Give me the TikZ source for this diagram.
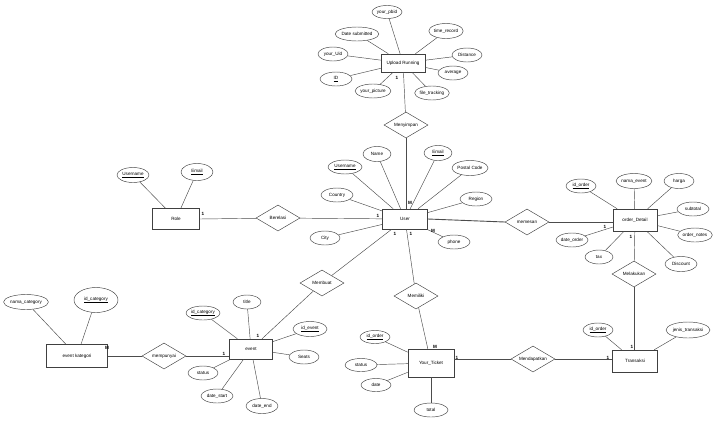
\documentclass[tikz,border=0pt]{standalone}
\usepackage{fontspec}
\setmainfont{Liberation Sans}
\usetikzlibrary{shapes.geometric}
\begin{document}
\begin{tikzpicture}[x=1pt,y=-1pt,
  font=\fontsize{4.6}{5.5}\selectfont,
  ent/.style={draw=black!75, rectangle, minimum width=44pt, minimum height=20pt, inner sep=0pt, line width=0.5pt},
  attr/.style={draw=black!75, ellipse, minimum height=14pt, inner sep=0pt, line width=0.45pt},
  rel/.style={draw=black!75, diamond, aspect=1.7, minimum width=44pt, minimum height=26pt, inner sep=0pt, line width=0.45pt},
  lnk/.style={draw=black!70, line width=0.45pt},
  card/.style={font=\fontsize{4.6}{5.5}\selectfont\bfseries, inner sep=0pt}]
\useasboundingbox[fill=white] (0,0) rectangle (720,421);

% ---------- Upload Running ----------
\node[ent, minimum width=44pt, minimum height=18pt] (up) at (403,63) {Upload Running};
\node[attr, minimum width=30pt, minimum height=13pt] (upA) at (387,12) {your\_pbid};
\node[attr, minimum width=40pt] (upB) at (357,34) {Date submitted};
\node[attr, minimum width=34pt, minimum height=15pt] (upC) at (446,31) {time\_record};
\node[attr, minimum width=30pt] (upD) at (333,54) {your\_Uid};
\node[attr, minimum width=30pt] (upE) at (467,55) {Distance};
\node[attr, minimum width=30pt] (upF) at (453,73) {average};
\node[attr, minimum width=32pt] (upG) at (336,79) {\underline{ID}};
\node[attr, minimum width=33pt] (upH) at (373,91) {your\_picture};
\node[attr, minimum width=34pt] (upI) at (432,93) {file\_tracking};
\foreach \a in {upA,upB,upC,upD,upE,upF,upG,upH,upI} \draw[lnk] (\a) -- (up);
\node[card] at (397,78) {1};

\node[rel] (mj) at (406,125) {Menyimpan};

% ---------- User ----------
\node[ent, minimum width=45pt, minimum height=20pt] (us) at (405,219) {User};
\node[attr, minimum width=28pt, minimum height=15pt] (usA) at (377,154) {Name};
\node[attr, minimum width=28pt, minimum height=15pt] (usB) at (438,153) {\underline{Email}};
\node[attr, minimum width=34pt] (usC) at (345,167) {\underline{Username}};
\node[attr, minimum width=36pt, minimum height=15pt] (usD) at (470,168) {Postal Code};
\node[attr, minimum width=32pt] (usE) at (337,195) {Country};
\node[attr, minimum width=32pt] (usF) at (476,199) {Region};
\node[attr, minimum width=30pt] (usG) at (325,238) {City};
\node[attr, minimum width=32pt] (usH) at (454,242) {phone};
\foreach \a in {usA,usB,usC,usD,usE,usF,usG,usH} \draw[lnk] (\a) -- (us);
\draw[lnk] (up) -- (mj);
\draw[lnk] (mj.south) -- (mj.south |- us.north);
\node[card] at (410,203) {M};
\node[card] at (378,216) {1};
\node[card] at (433,231) {M};
\node[card] at (395,234) {1};
\node[card] at (411,234) {1};

% ---------- Role ----------
\node[ent, minimum width=47pt, minimum height=21pt] (ro) at (176,219) {Role};
\node[attr, minimum width=32pt, minimum height=15pt] (roA) at (133,175) {\underline{Username}};
\node[attr, minimum width=32pt, minimum height=17pt] (roB) at (197,172) {\underline{Email}};
\draw[lnk] (roA) -- (ro);
\draw[lnk] (roB) -- (ro);
\node[rel] (br) at (278,218) {Berelasi};
\draw[lnk] (ro.east) -- (br);
\draw[lnk] (br) -- (us);
\node[card] at (203,214) {1};

% ---------- order_detail ----------
\node[rel] (me) at (527,222) {memesan};
\node[ent, minimum width=44pt, minimum height=22pt] (od) at (635,220) {order\_Detail};
\node[attr, minimum width=30pt] (odA) at (581,186) {\underline{id\_order}};
\node[attr, minimum width=32pt, minimum height=15pt] (odB) at (634,181) {nama\_event};
\node[attr, minimum width=30pt, minimum height=15pt] (odC) at (679,181) {harga};
\node[attr, minimum width=32pt] (odD) at (693,209) {subtotal};
\node[attr, minimum width=32pt] (odE) at (695,235) {order\_notes};
\node[attr, minimum width=32pt] (odF) at (572,240) {date\_order};
\node[attr, minimum width=28pt] (odG) at (599,257) {tax};
\node[attr, minimum width=32pt, minimum height=15pt] (odH) at (681,264) {Discount};
\foreach \a in {odA,odB,odC,odD,odE,odF,odG,odH} \draw[lnk] (\a) -- (od);
\draw[lnk, line width=0.9pt] (us.east) -- (me.west);
\draw[lnk] (me.east) -- (me.east -| od.west);
\node[card] at (605,227) {1};
\node[card] at (631,237) {1};

\node[rel] (ml) at (634,274) {Melakukan};
\draw[lnk] (od) -- (ml);

% ---------- Transaksi ----------
\node[ent, minimum width=45pt, minimum height=22pt] (tr) at (635,361) {Transaksi};
\node[attr, minimum width=30pt] (trA) at (598,330) {\underline{id\_order}};
\node[attr, minimum width=44pt, minimum height=16pt] (trB) at (688,330) {jenis\_transaksi};
\draw[lnk] (trA) -- (tr);
\draw[lnk] (trB) -- (tr);
\draw[lnk] (ml.south) -- (ml.south |- tr.north);
\node[card] at (632,347) {1};
\node[card] at (608,358) {1};

\node[rel] (md) at (533,359) {Mendapatkan};
\draw[lnk] (md.east) -- (md.east -| tr.west);

% ---------- Your_Ticket ----------
\node[ent, minimum width=46pt, minimum height=28pt] (yt) at (431,363) {Your\_Ticket};
\node[attr, minimum width=30pt, minimum height=13pt] (ytA) at (375,337) {\underline{id\_order}};
\node[attr, minimum width=32pt, minimum height=13pt] (ytB) at (361,365) {status};
\node[attr, minimum width=30pt, minimum height=13pt] (ytC) at (376,385) {date};
\node[attr, minimum width=34pt, minimum height=14pt] (ytD) at (431,410) {total};
\foreach \a in {ytA,ytB,ytC,ytD} \draw[lnk] (\a) -- (yt);
\draw[lnk] (md.west) -- (md.west -| yt.east);
\node[card] at (457,358) {1};

\node[rel] (mm) at (416,296) {Memiliki};
\draw[lnk] (mm) -- (us);
\draw[lnk] (mm) -- (yt);
\node[card] at (435,347) {M};

% ---------- event ----------
\node[rel] (mb) at (322,283) {Membuat};
\node[ent, minimum width=43pt, minimum height=20pt] (ev) at (251,349) {event};
\node[attr, minimum width=28pt] (evA) at (247,302) {title};
\node[attr, minimum width=34pt] (evB) at (203,313) {\underline{id\_category}};
\node[attr, minimum width=34pt, minimum height=15pt] (evC) at (310,329) {\underline{id\_event}};
\node[attr, minimum width=30pt] (evD) at (304,357) {Seats};
\node[attr, minimum width=30pt] (evE) at (203,373) {status};
\node[attr, minimum width=32pt] (evF) at (217,396) {date\_start};
\node[attr, minimum width=32pt, minimum height=15pt] (evG) at (262,406) {date\_end};
\foreach \a in {evA,evB,evC,evD,evE,evF,evG} \draw[lnk] (\a) -- (ev);
\draw[lnk] (mb) -- (us);
\draw[lnk] (mb) -- (ev);
\node[card] at (258,336) {1};
\node[card] at (224,354) {1};

% ---------- event kategori ----------
\node[rel] (mp) at (164,356) {mempunyai};
\node[ent, minimum width=61pt, minimum height=23pt] (ek) at (77,356) {event kategori};
\node[attr, minimum width=44pt, minimum height=15pt] (ekA) at (26,302) {nama\_category};
\node[attr, minimum width=44pt, minimum height=25pt] (ekB) at (96,300) {\underline{id\_category}};
\draw[lnk] (ekA) -- (ek);
\draw[lnk] (ekB) -- (ek);
\draw[lnk] (mp.east) -- (mp.east -| ev.west);
\draw[lnk] (mp.west) -- (mp.west -| ek.east);
\node[card] at (107,348) {M};
\end{tikzpicture}
\end{document}
